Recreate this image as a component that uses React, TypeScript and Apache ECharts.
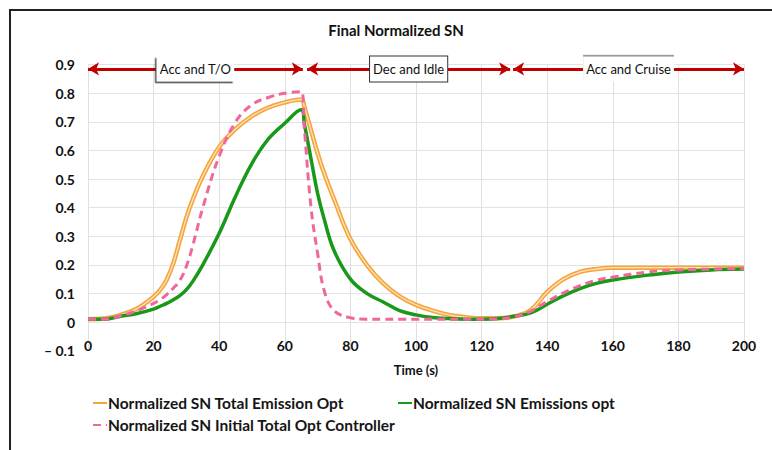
import React, { useEffect, useRef } from "react";
import * as echarts from "echarts";

const FONT = "Lato, 'Open Sans', sans-serif";

const titleText = "Final Normalized SN";
const xAxisName = "Time (s)";
const seriesNames = [
  "Normalized SN Total Emission Opt",
  "Normalized SN Emissions opt",
  "Normalized SN Initial Total Opt Controller",
];

const time = [0, 5, 10, 15, 20, 22, 24, 26, 28, 30, 32, 35, 40, 45, 50, 55, 60, 65, 66, 68, 70, 72, 75, 80, 85, 90, 95, 100, 105, 110, 115, 120, 125, 130, 135, 140, 145, 150, 155, 160, 170, 180, 190, 200];

const totalEmissionOpt = [0.01, 0.012, 0.025, 0.047, 0.088, 0.112, 0.148, 0.205, 0.285, 0.365, 0.43, 0.51, 0.612, 0.675, 0.72, 0.75, 0.768, 0.778, 0.75, 0.67, 0.59, 0.52, 0.43, 0.29, 0.2, 0.135, 0.09, 0.06, 0.04, 0.025, 0.017, 0.013, 0.013, 0.02, 0.042, 0.105, 0.15, 0.175, 0.185, 0.19, 0.19, 0.19, 0.19, 0.19];

const emissionsOpt = [0.01, 0.01, 0.02, 0.03, 0.045, 0.055, 0.065, 0.078, 0.092, 0.113, 0.143, 0.2, 0.31, 0.44, 0.555, 0.64, 0.695, 0.742, 0.69, 0.57, 0.45, 0.36, 0.25, 0.15, 0.1, 0.07, 0.04, 0.025, 0.016, 0.012, 0.01, 0.01, 0.012, 0.02, 0.032, 0.062, 0.092, 0.117, 0.135, 0.147, 0.163, 0.175, 0.182, 0.185];

const initialTotalOpt = [0.01, 0.01, 0.022, 0.04, 0.065, 0.078, 0.096, 0.118, 0.145, 0.195, 0.27, 0.4, 0.58, 0.7, 0.76, 0.785, 0.8, 0.805, 0.67, 0.4, 0.24, 0.11, 0.04, 0.015, 0.01, 0.01, 0.01, 0.01, 0.01, 0.01, 0.01, 0.01, 0.011, 0.018, 0.038, 0.072, 0.102, 0.127, 0.146, 0.157, 0.174, 0.182, 0.185, 0.187];

const phases = [
  { name: "Acc and T/O", from: 0, to: 65.5, box: "lb" },
  { name: "Dec and Idle", from: 66.8, to: 128.7, box: "full" },
  { name: "Acc and Cruise", from: 129.6, to: 200, box: "top" },
];
const phaseLevel = 0.885;

const xTicks = { min: 0, max: 200, interval: 20 };
const yTicks = { min: -0.1, max: 0.9, interval: 0.1 };

function toPairs(vals: number[]) {
  return time.map((t, i) => [t, vals[i]]);
}

function boxStyle(kind: string) {
  const base: any = {
    backgroundColor: "#ffffff",
    padding: [6, 3, 6, 3],
    color: "#111",
    fontFamily: FONT,
    fontSize: 13,
    verticalAlign: "middle",
    distance: 0,
  };
  if (kind === "lb") {
    base.shadowColor = "#333";
    base.shadowBlur = 0;
    base.shadowOffsetX = -1.5;
    base.shadowOffsetY = 1.5;
  } else if (kind === "full") {
    base.borderColor = "#333";
    base.borderWidth = 1;
  } else {
    base.shadowColor = "#555";
    base.shadowBlur = 0;
    base.shadowOffsetX = 0;
    base.shadowOffsetY = -1.2;
  }
  return base;
}

export default function App() {
  const ref = useRef<HTMLDivElement>(null);
  useEffect(() => {
    if (!ref.current) return;
    const chart = echarts.init(ref.current, undefined, { renderer: "svg" });
    const ySplitColors = [];
    for (let v = 0; v <= 10; v++) ySplitColors.push(v === 0 ? "rgba(0,0,0,0)" : "#e3e3e3");
    const legendText = { fontFamily: FONT, fontSize: 15.5, fontWeight: "bold", color: "#151515" };
    const legendBase = {
      padding: 0,
      itemWidth: 14,
      itemHeight: 6,
      itemGap: 0,
      itemStyle: { color: "rgba(0,0,0,0)", borderWidth: 0, opacity: 0 },
    };
    chart.setOption({
      animation: false,
      backgroundColor: "#ffffff",
      title: {
        text: titleText,
        left: 396,
        top: 22,
        textAlign: "center",
        padding: 0,
        textStyle: { fontFamily: FONT, fontSize: 15, fontWeight: "bold", color: "#111" },
      },
      graphic: [
        {
          type: "rect",
          shape: { x: 10, y: 10, width: 800, height: 500 },
          style: { fill: "none", stroke: "#222", lineWidth: 2 },
          silent: true,
        },
      ],
      grid: { left: 88, right: 28, top: 64.6, bottom: 99.4, containLabel: false },
      xAxis: {
        type: "value",
        min: xTicks.min,
        max: xTicks.max,
        interval: xTicks.interval,
        offset: -28.6,
        name: xAxisName,
        nameLocation: "middle",
        nameGap: 41,
        nameTextStyle: { fontFamily: FONT, fontSize: 13, fontWeight: "bold", color: "#111" },
        axisLine: { show: false },
        axisTick: { show: false },
        axisLabel: { margin: 16, fontFamily: FONT, fontSize: 14, fontWeight: "bold", color: "#111" },
        splitLine: { show: true, lineStyle: { color: "#e0e0e0", width: 1 } },
      },
      yAxis: {
        type: "value",
        min: yTicks.min,
        max: yTicks.max,
        interval: yTicks.interval,
        axisLine: { show: false },
        axisTick: { show: false },
        axisLabel: {
          margin: 13,
          fontFamily: FONT,
          fontSize: 14,
          fontWeight: "bold",
          color: "#111",
          formatter: (v: number) => {
            if (Math.abs(v) < 1e-9) return "0";
            if (v < 0) return "– " + Math.abs(v).toFixed(1);
            return v.toFixed(1);
          },
        },
        splitLine: { show: true, lineStyle: { color: ySplitColors, width: 1 } },
      },
      legend: [
        {
          ...legendBase,
          data: [seriesNames[0]],
          left: 92,
          top: 395,
          textStyle: { ...legendText, padding: [0, 0, 0, -4] },
        },
        {
          ...legendBase,
          data: [seriesNames[1]],
          left: 397,
          top: 395,
          textStyle: { ...legendText, padding: [0, 0, 0, -4] },
        },
        {
          ...legendBase,
          data: [seriesNames[2]],
          left: 92,
          top: 417,
          textStyle: { ...legendText, padding: [0, 0, 0, -4] },
        },
      ],
      series: [
        {
          name: seriesNames[0],
          type: "line",
          data: toPairs(totalEmissionOpt),
          symbol: "none",
          smooth: 0.4,
          lineStyle: { color: "#f5a53e", width: 4.5 },
          itemStyle: { color: "#f5a53e" },
          z: 2,
        },
        {
          name: "inner",
          type: "line",
          data: toPairs(totalEmissionOpt),
          symbol: "none",
          smooth: 0.4,
          lineStyle: { color: "#fde4bb", width: 1.3 },
          itemStyle: { color: "#fde4bb" },
          z: 3,
          silent: true,
        },
        {
          name: seriesNames[1],
          type: "line",
          data: toPairs(emissionsOpt),
          symbol: "none",
          smooth: 0.4,
          lineStyle: { color: "#1a981a", width: 3.5 },
          itemStyle: { color: "#1a981a" },
          z: 4,
          markLine: {
            silent: true,
            symbol: ["arrow", "arrow"],
            symbolSize: [10, 11],
            lineStyle: { color: "#c00000", width: 3, type: "solid" },
            label: { show: true, position: "middle" },
            data: phases.map((p) => [
              {
                coord: [p.from, phaseLevel],
                name: p.name,
                label: { show: true, position: "middle", formatter: "{b}", ...boxStyle(p.box) },
              },
              { coord: [p.to, phaseLevel] },
            ]),
          },
        },
        {
          name: seriesNames[2],
          type: "line",
          data: toPairs(initialTotalOpt),
          symbol: "none",
          smooth: 0.4,
          lineStyle: { color: "#f0689b", width: 3, type: [8, 5] },
          itemStyle: { color: "#f0689b" },
          z: 5,
        },
      ],
    });
    return () => chart.dispose();
  }, []);
  return <div ref={ref} style={{ position: "absolute", left: 0, top: 0, width: 772, height: 450 }} />;
}
